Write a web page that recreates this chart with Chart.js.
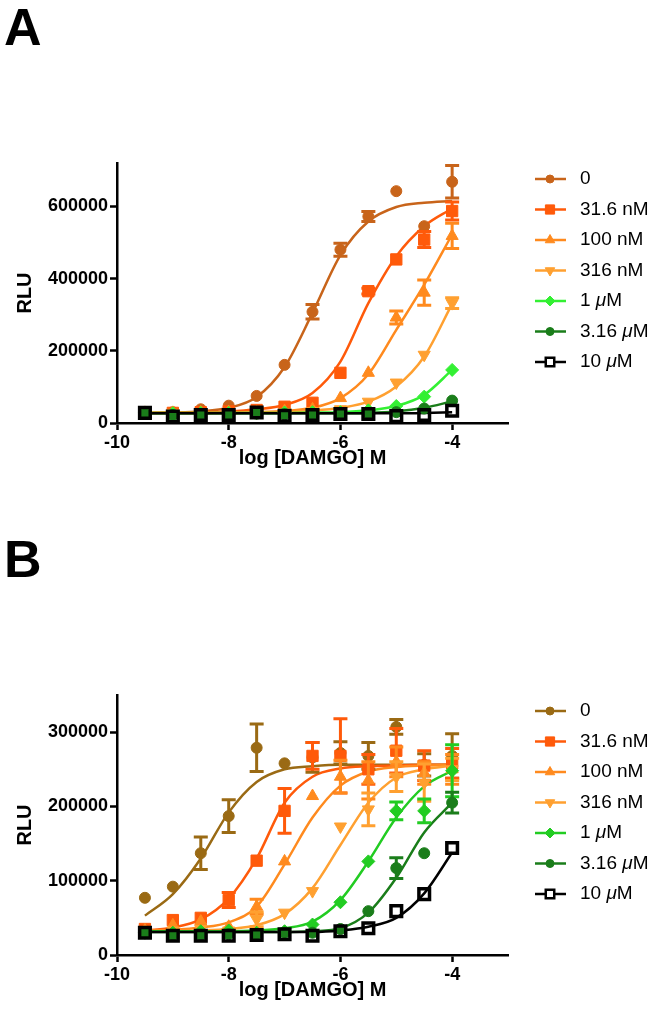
<!DOCTYPE html>
<html>
<head>
<meta charset="utf-8">
<title>DAMGO concentration-response</title>
<script src="https://cdn.jsdelivr.net/npm/chart.js@4.4.1/dist/chart.umd.min.js"></script>
<style>
  body { margin: 0; background: #fff; font-family: "Liberation Sans", Arial, sans-serif; }
  .panel { position: relative; width: 662px; height: 511px; }
  .letter { position: absolute; left: 4px; font-weight: bold; font-size: 52px; line-height: 52px; }
  canvas { display: block; }
</style>
</head>
<body>
<div class="panel">
  <div class="letter" style="top: 1px">A</div>
  <canvas id="chartA" width="662" height="511"></canvas>
</div>
<div class="panel">
  <div class="letter" style="top: 22px">B</div>
  <canvas id="chartB" width="662" height="511"></canvas>
</div>
<script>
// log [DAMGO] M
const doses = [-9.5, -9, -8.5, -8, -7.5, -7, -6.5, -6, -5.5, -5, -4.5, -4];
const seriesLabels = ["0", "31.6 nM", "100 nM", "316 nM", "1 μM", "3.16 μM", "10 μM"];
const xTicks = [-10, -8, -6, -4];
const yTicksA = [0, 200000, 400000, 600000];
const yTicksB = [0, 100000, 200000, 300000];

// Panel A - measured points, SEM and fitted curves
const a0 = [28000, 30000, 38000, 48000, 75000, 161000, 308000, 480000, 572000, 642000, 545000, 668000];
const a0Err = [0, 0, 0, 0, 0, 0, 20000, 18000, 14000, 0, 0, 45000];
const a0Fit = [28000, 29000, 32000, 42000, 72000, 155000, 305000, 465000, 558000, 598000, 610000, 615000];
const a31 = [28000, 28000, 30000, 32000, 36000, 45000, 56000, 139000, 365000, 453000, 508000, 587000];
const a31Err = [0, 0, 0, 0, 0, 0, 0, 0, 8000, 0, 22000, 25000];
const a31Fit = [28000, 29000, 30000, 32000, 38000, 50000, 83000, 170000, 332000, 462000, 545000, 594000];
const a100 = [28000, 28000, 29000, 30000, 30000, 33000, 38000, 69000, 139000, 292000, 361000, 518000];
const a100Err = [0, 0, 0, 0, 0, 0, 0, 0, 0, 18000, 35000, 35000];
const a100Fit = [28000, 28000, 28000, 29000, 30000, 33000, 42000, 69000, 135000, 258000, 383000, 522000];
const a316 = [28000, 28000, 28000, 28000, 29000, 30000, 33000, 38000, 59000, 112000, 189000, 332000];
const a316Err = [0, 0, 0, 0, 0, 0, 0, 0, 0, 0, 0, 15000];
const a316Fit = [28000, 28000, 28000, 28000, 29000, 30000, 34000, 42000, 59000, 101000, 184000, 330000];
const a1u = [28000, 27000, 28000, 28000, 28000, 29000, 30000, 30000, 35000, 47000, 73000, 147000];
const a1uErr = [0, 0, 0, 0, 0, 0, 0, 0, 0, 0, 0, 0];
const a1uFit = [28000, 28000, 28000, 28000, 28000, 28000, 29000, 30000, 35000, 47000, 78000, 147000];
const a3u = [25000, 22000, 24000, 24000, 26000, 24000, 24000, 26000, 27000, 30000, 40000, 62000];
const a3uErr = [0, 0, 0, 0, 0, 0, 0, 0, 0, 0, 0, 0];
const a3uFit = [27000, 27000, 27000, 27000, 27000, 27000, 27000, 27000, 28000, 32000, 42000, 60000];
const a10u = [28000, 18000, 22000, 22000, 29000, 20000, 22000, 25000, 25000, 19000, 22000, 34000];
const a10uErr = [0, 0, 0, 0, 0, 0, 0, 0, 0, 0, 0, 0];
const a10uFit = [27000, 27000, 27000, 27000, 27000, 27000, 27000, 27000, 27000, 27000, 28000, 30000];

// Panel B
const b0 = [77000, 92000, 137000, 187000, 279000, 258000, 266000, 272000, 268000, 307000, 256000, 268000];
const b0Err = [0, 0, 22000, 22000, 32000, 0, 20000, 15000, 18000, 10000, 15000, 30000];
const b0Fit = [53000, 82000, 130000, 192000, 233000, 250000, 254000, 256000, 256000, 256000, 256000, 256000];
const b31 = [35000, 47000, 50000, 74000, 127000, 194000, 268000, 268000, 250000, 275000, 255000, 258000];
const b31Err = [0, 0, 0, 10000, 0, 30000, 18000, 50000, 20000, 30000, 20000, 20000];
const b31Fit = [33000, 37000, 48000, 76000, 130000, 205000, 240000, 251000, 254000, 255000, 256000, 256000];
const b100 = [33000, 40000, 45000, 38000, 65000, 126000, 214000, 240000, 235000, 260000, 245000, 250000];
const b100Err = [0, 0, 0, 0, 10000, 0, 0, 22000, 25000, 20000, 15000, 20000];
const b100Fit = [33000, 34000, 37000, 44000, 65000, 122000, 185000, 228000, 247000, 253000, 255000, 256000];
const b316 = [32000, 33000, 35000, 33000, 48000, 57000, 86000, 173000, 196000, 240000, 232000, 250000];
const b316Err = [0, 0, 0, 0, 10000, 0, 0, 0, 22000, 20000, 25000, 15000];
const b316Fit = [32000, 32000, 33000, 35000, 40000, 55000, 90000, 148000, 205000, 239000, 250000, 255000];
const b1u = [30000, 30000, 32000, 33000, 30000, 32000, 41000, 71000, 126000, 194000, 194000, 248000];
const b1uErr = [0, 0, 0, 0, 0, 0, 0, 0, 0, 12000, 16000, 35000];
const b1uFit = [32000, 32000, 32000, 32000, 33000, 36000, 45000, 74000, 126000, 185000, 227000, 248000];
const b3u = [30000, 27000, 27000, 28000, 28000, 30000, 30000, 35000, 59000, 117000, 137000, 205000];
const b3uErr = [0, 0, 0, 0, 0, 0, 0, 0, 0, 14000, 0, 14000];
const b3uFit = [31000, 31000, 31000, 31000, 31000, 31000, 32000, 36000, 57000, 104000, 165000, 205000];
const b10u = [30000, 26000, 26000, 26000, 27000, 28000, 26000, 32000, 36000, 59000, 82000, 144000];
const b10uErr = [0, 0, 0, 0, 0, 0, 0, 0, 0, 0, 0, 0];
const b10uFit = [31000, 31000, 31000, 31000, 31000, 31000, 31000, 33000, 38000, 50000, 83000, 138000];

// styles
const FONT = '"Liberation Sans", Arial, sans-serif';
const colorsA = ["#c8641a", "#ff5a0a", "#ff8a1e", "#ffa030", "#33f033", "#1a7d1a", "#000000"];
const colorsB = ["#9a6a14", "#ff5a0a", "#ff8a1e", "#ffa030", "#22cc22", "#1a7d1a", "#000000"];
const pointStyles = ["circle", "rect", "triangle", "triangle", "rectRot", "circle", "rect"];
const pointRotations = [0, 0, 0, 180, 0, 0, 0];
const pointSizes = [5.5, 8, 7, 7, 6.5, 5.5, 7.5];

Chart.defaults.font.family = FONT;

function buildDatasets(points, errs, fits, colors) {
  const sets = [];
  seriesLabels.forEach((label, i) => {
    sets.push({
      label: label + " fit",
      data: doses.map((d, k) => ({ x: d, y: fits[i][k] })),
      borderColor: colors[i],
      borderWidth: 2.5,
      pointRadius: 0,
      cubicInterpolationMode: "monotone",
      fill: false,
      clip: false,
      order: 100 - i,
    });
    const open = i === 6;
    sets.push({
      label: label,
      data: doses.map((d, k) => ({ x: d, y: points[i][k] })),
      errors: errs[i],
      showLine: false,
      pointStyle: pointStyles[i],
      rotation: pointRotations[i],
      pointRadius: pointSizes[i],
      backgroundColor: open ? "rgba(255,255,255,0)" : colors[i],
      borderColor: colors[i],
      borderWidth: open ? 3.5 : 1,
      clip: false,
      order: 50 - i,
    });
  });
  return sets;
}

// SEM bars, drawn just before each point set
const errorBars = {
  id: "errorBars",
  beforeDatasetDraw(chart, args) {
    const ds = chart.data.datasets[args.index];
    if (!ds.errors) return;
    const ctx = chart.ctx;
    const yScale = chart.scales.y;
    ctx.save();
    ctx.strokeStyle = ds.borderColor;
    ctx.lineWidth = 3;
    args.meta.data.forEach((pt, k) => {
      const e = ds.errors[k];
      if (!e) return;
      const v = ds.data[k].y;
      const yTop = yScale.getPixelForValue(v + e);
      const yBot = yScale.getPixelForValue(v - e);
      ctx.beginPath();
      ctx.moveTo(pt.x, yTop);
      ctx.lineTo(pt.x, yBot);
      ctx.moveTo(pt.x - 7, yTop);
      ctx.lineTo(pt.x + 7, yTop);
      ctx.moveTo(pt.x - 7, yBot);
      ctx.lineTo(pt.x + 7, yBot);
      ctx.stroke();
    });
    ctx.restore();
  },
};

// legend to the right of the plot, line + marker + label
const sideLegend = {
  id: "sideLegend",
  afterDraw(chart, args, opts) {
    const ctx = chart.ctx;
    const top = chart.chartArea.top + 16;
    seriesLabels.forEach((label, i) => {
      const y = top + i * 30.5;
      const c = opts.colors[i];
      ctx.save();
      ctx.strokeStyle = c;
      ctx.lineWidth = 2.5;
      ctx.beginPath();
      ctx.moveTo(535, y);
      ctx.lineTo(566, y);
      ctx.stroke();
      const open = i === 6;
      ctx.fillStyle = open ? "#fff" : c;
      ctx.lineWidth = open ? 2.5 : 1;
      Chart.helpers.drawPoint(ctx, {
        pointStyle: pointStyles[i],
        rotation: pointRotations[i],
        radius: pointSizes[i] - 1.5,
        borderWidth: open ? 2.5 : 1,
      }, 550, y);
      ctx.fillStyle = "#000";
      ctx.textBaseline = "middle";
      let x = 580;
      label.split(/(μ)/).forEach((part) => {
        if (!part) return;
        ctx.font = (part === "μ" ? "italic " : "") + "19px " + FONT;
        ctx.fillText(part, x, y);
        x += ctx.measureText(part).width;
      });
      ctx.restore();
    });
  },
};

function makeChart(id, datasets, colors, yMax, yTicks, pad) {
  return new Chart(document.getElementById(id).getContext("2d"), {
    type: "line",
    data: { datasets: datasets },
    options: {
      responsive: false,
      animation: false,
      events: [],
      layout: { padding: { left: 0, right: 154, top: pad.top, bottom: pad.bottom } },
      plugins: {
        legend: { display: false },
        tooltip: { enabled: false },
        sideLegend: { colors: colors },
      },
      scales: {
        x: {
          type: "linear",
          min: -10,
          max: -3,
          afterBuildTicks: (s) => { s.ticks = xTicks.map((v) => ({ value: v })); },
          afterFit: (s) => { s.height = 47; },
          grid: { drawOnChartArea: false, tickLength: 7, tickWidth: 2.5, tickColor: "#000" },
          border: { color: "#000", width: 2.5 },
          ticks: { color: "#000", padding: 2, maxRotation: 0, font: { size: 18, weight: "bold" } },
          title: { display: true, text: "log [DAMGO] M", color: "#000", padding: 0, font: { size: 20, weight: "bold" } },
        },
        y: {
          min: 0,
          max: yMax,
          afterBuildTicks: (s) => { s.ticks = yTicks.map((v) => ({ value: v })); },
          afterFit: (s) => { s.width = 117; },
          grid: { drawOnChartArea: false, tickLength: 7, tickWidth: 2.5, tickColor: "#000" },
          border: { color: "#000", width: 2.5 },
          ticks: { color: "#000", padding: 2, autoSkip: false, font: { size: 18, weight: "bold" }, callback: (v) => String(v) },
          title: { display: true, text: "RLU", color: "#000", padding: { top: 13, bottom: 0 }, font: { size: 20, weight: "bold" } },
        },
      },
    },
    plugins: [errorBars, sideLegend],
  });
}

const chartA = makeChart(
  "chartA",
  buildDatasets(
    [a0, a31, a100, a316, a1u, a3u, a10u],
    [a0Err, a31Err, a100Err, a316Err, a1uErr, a3uErr, a10uErr],
    [a0Fit, a31Fit, a100Fit, a316Fit, a1uFit, a3uFit, a10uFit],
    colorsA
  ),
  colorsA, 720000, yTicksA, { top: 163, bottom: 41 }
);

const chartB = makeChart(
  "chartB",
  buildDatasets(
    [b0, b31, b100, b316, b1u, b3u, b10u],
    [b0Err, b31Err, b100Err, b316Err, b1uErr, b3uErr, b10uErr],
    [b0Fit, b31Fit, b100Fit, b316Fit, b1uFit, b3uFit, b10uFit],
    colorsB
  ),
  colorsB, 350000, yTicksB, { top: 184, bottom: 20 }
);
</script>
</body>
</html>
